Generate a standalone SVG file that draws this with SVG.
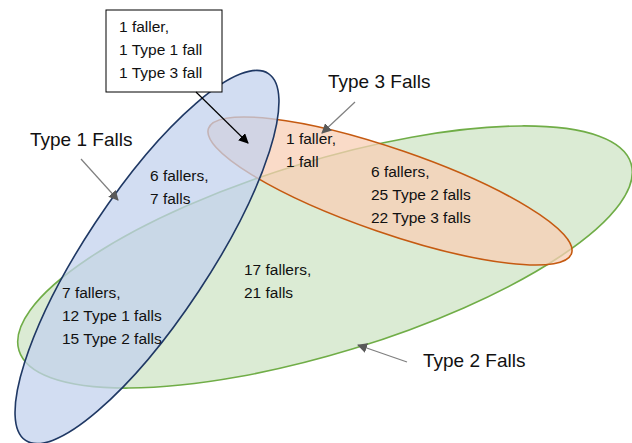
<svg xmlns="http://www.w3.org/2000/svg" width="632" height="443" viewBox="0 0 632 443">
  <defs>
    <marker id="headBlack" viewBox="0 0 10 10" refX="9" refY="5" markerWidth="10" markerHeight="10" markerUnits="userSpaceOnUse" orient="auto">
      <path d="M0,0 L10,5 L0,10 z" fill="#000"/>
    </marker>
    <marker id="headGrey" viewBox="0 0 10 10" refX="9" refY="5" markerWidth="10" markerHeight="10" markerUnits="userSpaceOnUse" orient="auto">
      <path d="M0,0 L10,5 L0,10 z" fill="#595959"/>
    </marker>
  </defs>
  <style>
    .t { font-family: "Liberation Sans", Arial, sans-serif; font-size: 15.5px; fill: #111; }
    .lbl { font-family: "Liberation Sans", Arial, sans-serif; font-size: 19px; fill: #111; }
    .set2 { fill: #d5e8cc; fill-opacity: 0.85; stroke: #70ad47; stroke-width: 1.6; }
    .set3 { fill: #f8cfb5; fill-opacity: 0.75; stroke: #c55a11; stroke-width: 1.6; }
    .set1 { fill: #c3d2ee; fill-opacity: 0.75; stroke: #1f3864; stroke-width: 1.6; }
    .grey { stroke: #7f7f7f; stroke-width: 1.2; fill: none; marker-end: url(#headGrey); }
    .black { stroke: #000; stroke-width: 1.2; fill: none; marker-end: url(#headBlack); }
  </style>
  <rect width="632" height="443" fill="#fff"/>

  <!-- Type 2 set -->
  <g id="type2">
    <ellipse class="set2" cx="325" cy="257" rx="320" ry="96" transform="rotate(-17 325 257)"/>
  </g>
  <!-- Type 3 set -->
  <g id="type3">
    <ellipse class="set3" cx="390" cy="191" rx="192" ry="42" transform="rotate(19 390 191)"/>
  </g>
  <!-- Type 1 set -->
  <g id="type1">
    <ellipse class="set1" cx="147" cy="257" rx="220" ry="62" transform="rotate(-56.5 147 257)"/>
  </g>

  <!-- region counts -->
  <g id="only1">
    <text class="t" x="150" y="181">6 fallers,</text>
    <text class="t" x="150" y="204">7 falls</text>
  </g>
  <g id="only3">
    <text class="t" x="286" y="144">1 faller,</text>
    <text class="t" x="286" y="167">1 fall</text>
  </g>
  <g id="both23">
    <text class="t" x="371" y="177">6 fallers,</text>
    <text class="t" x="371" y="200">25 Type 2 falls</text>
    <text class="t" x="371" y="223">22 Type 3 falls</text>
  </g>
  <g id="only2">
    <text class="t" x="244" y="275">17 fallers,</text>
    <text class="t" x="244" y="298">21 falls</text>
  </g>
  <g id="both12">
    <text class="t" x="62" y="298">7 fallers,</text>
    <text class="t" x="62" y="321">12 Type 1 falls</text>
    <text class="t" x="62" y="344">15 Type 2 falls</text>
  </g>

  <!-- callout for the Type 1 / Type 3 overlap -->
  <g id="both13">
    <rect x="106" y="10" width="116" height="82" fill="#fff" stroke="#000" stroke-width="1"/>
    <text class="t" x="119" y="32">1 faller,</text>
    <text class="t" x="119" y="55">1 Type 1 fall</text>
    <text class="t" x="119" y="78">1 Type 3 fall</text>
  </g>

  <!-- set labels -->
  <g id="label1"><text class="lbl" x="30" y="146">Type 1 Falls</text></g>
  <g id="label3"><text class="lbl" x="328" y="88">Type 3 Falls</text></g>
  <g id="label2"><text class="lbl" x="423" y="367">Type 2 Falls</text></g>

  <!-- connectors -->
  <g id="connectors">
    <line class="black" x1="196" y1="92" x2="248" y2="143"/>
    <line class="grey" x1="81" y1="159" x2="118" y2="200"/>
    <line class="grey" x1="355" y1="102" x2="322" y2="133"/>
    <line class="grey" x1="407" y1="362" x2="358" y2="345"/>
  </g>
</svg>
